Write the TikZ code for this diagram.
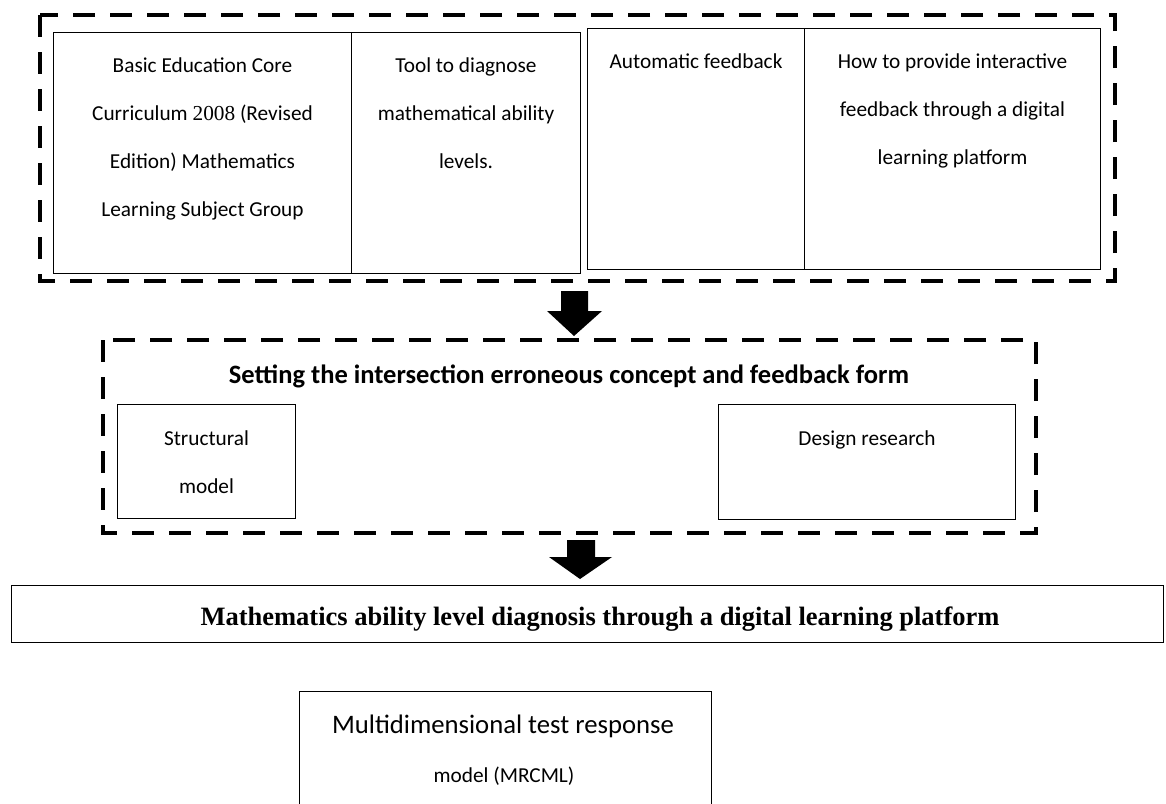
\documentclass[tikz,border=0pt]{standalone}
\usepackage{fontspec}
\setmainfont{Carlito}
\newfontfamily\timesfont{Liberation Serif}
\usetikzlibrary{positioning}

\begin{document}
\begin{tikzpicture}[x=1pt,y=-1pt,
  cell/.style={draw,line width=1pt,inner sep=0pt,anchor=north west},
  celltext/.style={anchor=base,align=center,inner sep=0pt,font=\fontsize{21.3}{48}\selectfont},
  groupbox/.style={draw,line width=4pt,dash pattern=on 22pt off 15pt}]
\useasboundingbox (0,0) rectangle (1166,803);
\clip (0,0) rectangle (1166,803);
%---------------------------------------------------
% inputs
\draw[groupbox] (40,15) rectangle (1115,281);
\node[cell,minimum width=298pt,minimum height=241pt] (curr)  at (53,32)  {};
\node[cell,minimum width=229pt,minimum height=241pt] (tool)  at (351,32) {};
\node[cell,minimum width=217pt,minimum height=241pt] (auto)  at (587,28) {};
\node[cell,minimum width=296pt,minimum height=241pt] (howto) at (804,28) {};
% base = last line
\node[celltext] (currtxt)  at ([yshift=-184pt]curr.north)  {Basic Education Core\\Curriculum {\timesfont 2008} (Revised\\Edition) Mathematics\\Learning Subject Group};
\node[celltext] (tooltxt)  at ([yshift=-136pt]tool.north)  {Tool to diagnose\\mathematical ability\\levels.};
\node[celltext] (autotxt)  at ([yshift=-40pt]auto.north)   {Automatic feedback};
\node[celltext] (howtotxt) at ([yshift=-136pt]howto.north) {How to provide interactive\\feedback through a digital\\learning platform};
%---------------------------------------------------
\coordinate (arrowA) at (574,336);
\fill (arrowA) -- ++(-27,-25) -- ++(14,0) -- ++(0,-20) -- ++(27,0) -- ++(0,20) -- ++(14,0) -- cycle;
%---------------------------------------------------
% setting
\draw[groupbox] (103,340) rectangle (1036,533);
\node[anchor=base,inner sep=0pt,font=\fontsize{26.5}{26.5}\selectfont\bfseries] (setting) at (569,383) {Setting the intersection erroneous concept and feedback form};
\node[cell,minimum width=178pt,minimum height=114pt] (struct) at (117,404) {};
\node[cell,minimum width=297pt,minimum height=115pt] (design) at (718,404) {};
\node[celltext] (structtxt) at ([yshift=-89pt]struct.north) {Structural\\model};
\node[celltext] (designtxt) at ([yshift=-41pt]design.north) {Design research};
%---------------------------------------------------
\coordinate (arrowB) at (580,579);
\fill (arrowB) -- ++(-31,-22) -- ++(18,0) -- ++(0,-17) -- ++(28,0) -- ++(0,17) -- ++(17,0) -- cycle;
%---------------------------------------------------
% diagnosis
\node[cell,line width=1.3pt,minimum width=1152pt,minimum height=57pt] (diag) at (11,585) {};
\node[anchor=base,inner sep=0pt,font=\fontsize{26.5}{26.5}\selectfont\timesfont\bfseries] (diagtxt) at (600,625) {Mathematics ability level diagnosis through a digital learning platform};
%---------------------------------------------------
\node[cell,minimum width=412pt,minimum height=140pt] (mrcml) at (299,691) {};
\node[anchor=base,inner sep=0pt,font=\fontsize{26.7}{26.7}\selectfont] (mrcmltxt) at (503,733) {Multidimensional test response};
\node[anchor=base,inner sep=0pt,font=\fontsize{21.3}{21.3}\selectfont] (mrcmlsub) at (504,782) {model (MRCML)};
\end{tikzpicture}
\end{document}
